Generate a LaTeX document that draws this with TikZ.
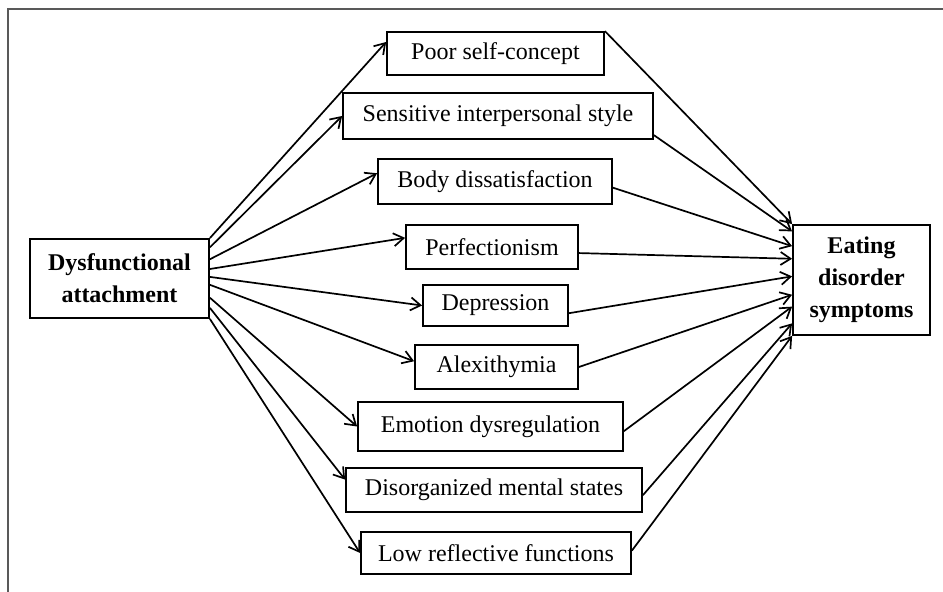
\documentclass[tikz,border=0pt]{standalone}
\usepackage{fontspec}
\setmainfont{Liberation Serif}
\usetikzlibrary{arrows.meta}
\begin{document}
\begin{tikzpicture}[x=0.5pt, y=-0.5pt,
		box/.style={draw, line width=0.9pt, inner sep=0pt, font=\fontsize{12}{16}\selectfont},
		key/.style={box, font=\fontsize{12}{16}\selectfont\bfseries, align=center},
		edge/.style={line width=0.85pt, -{Straight Barb[length=5pt,width=6.5pt]}}]
			\useasboundingbox (0,0) rectangle (943,592);
			\draw[gray!70!black, line width=1pt] (8,592) -- (8,9) -- (943,9);

			\draw node[key, minimum width=89.5pt, minimum height=39.5pt] (att) at (119.5,278.5) {Dysfunctional\\attachment};
			\draw node[key, minimum width=68.5pt, minimum height=55pt] (eds) at (861.5,280) {Eating\\disorder\\symptoms};

			\draw node[box, minimum width=108.5pt, minimum height=21.5pt] (psc) at (495.5,53.5) {Poor self-concept};
			\draw node[box, minimum width=155pt, minimum height=23pt] (sis) at (498,116) {Sensitive interpersonal style};
			\draw node[box, minimum width=117pt, minimum height=22.5pt] (bd) at (495,181.5) {Body dissatisfaction};
			\draw node[box, minimum width=86pt, minimum height=22pt] (per) at (492,247) {Perfectionism};
			\draw node[box, minimum width=72.5pt, minimum height=20.5pt] (dep) at (495.5,305.5) {Depression};
			\draw node[box, minimum width=81.5pt, minimum height=22pt] (alx) at (496.5,367) {Alexithymia};
			\draw node[box, minimum width=132.5pt, minimum height=24.5pt] (emo) at (490.5,426.5) {Emotion dysregulation};
			\draw node[box, minimum width=148pt, minimum height=22pt] (dis) at (494,490) {Disorganized mental states};
			\draw node[box, minimum width=135pt, minimum height=21pt] (low) at (496,553) {Low reflective functions};

			% attachment to mediators
			\draw[edge] (att.north east) -- (psc.174.5);
			\draw[edge] (att.19.4) -- (sis.west);
			\draw[edge] (att.12.9) -- (bd.176.8);
			\draw[edge] (att.6.7) -- (per.174.7);
			\draw[edge] (att.1) -- (dep.west);
			\draw[edge] (att.-4.2) -- (alx.176.5);
			\draw[edge] (att.-12.3) -- (emo.west);
			\draw[edge] (att.-18.2) -- (dis.176.9);
			\draw[edge] (att.south east) -- (low.west);

			% mediators to symptoms
			\draw[edge] (psc.north east) -- (eds.north west);
			\draw[edge] (sis.-7) -- (eds.145);
			\draw[edge] (bd.-3) -- (eds.154);
			\draw[edge] (per.-4) -- (eds.163);
			\draw[edge] (dep.-6) -- (eds.177);
			\draw[edge] (alx.east) -- (eds.192);
			\draw[edge] (emo.-2) -- (eds.201);
			\draw[edge] (dis.-2) -- (eds.212);
			\draw[edge] (low.1) -- (eds.south west);
		\end{tikzpicture}
\end{document}
